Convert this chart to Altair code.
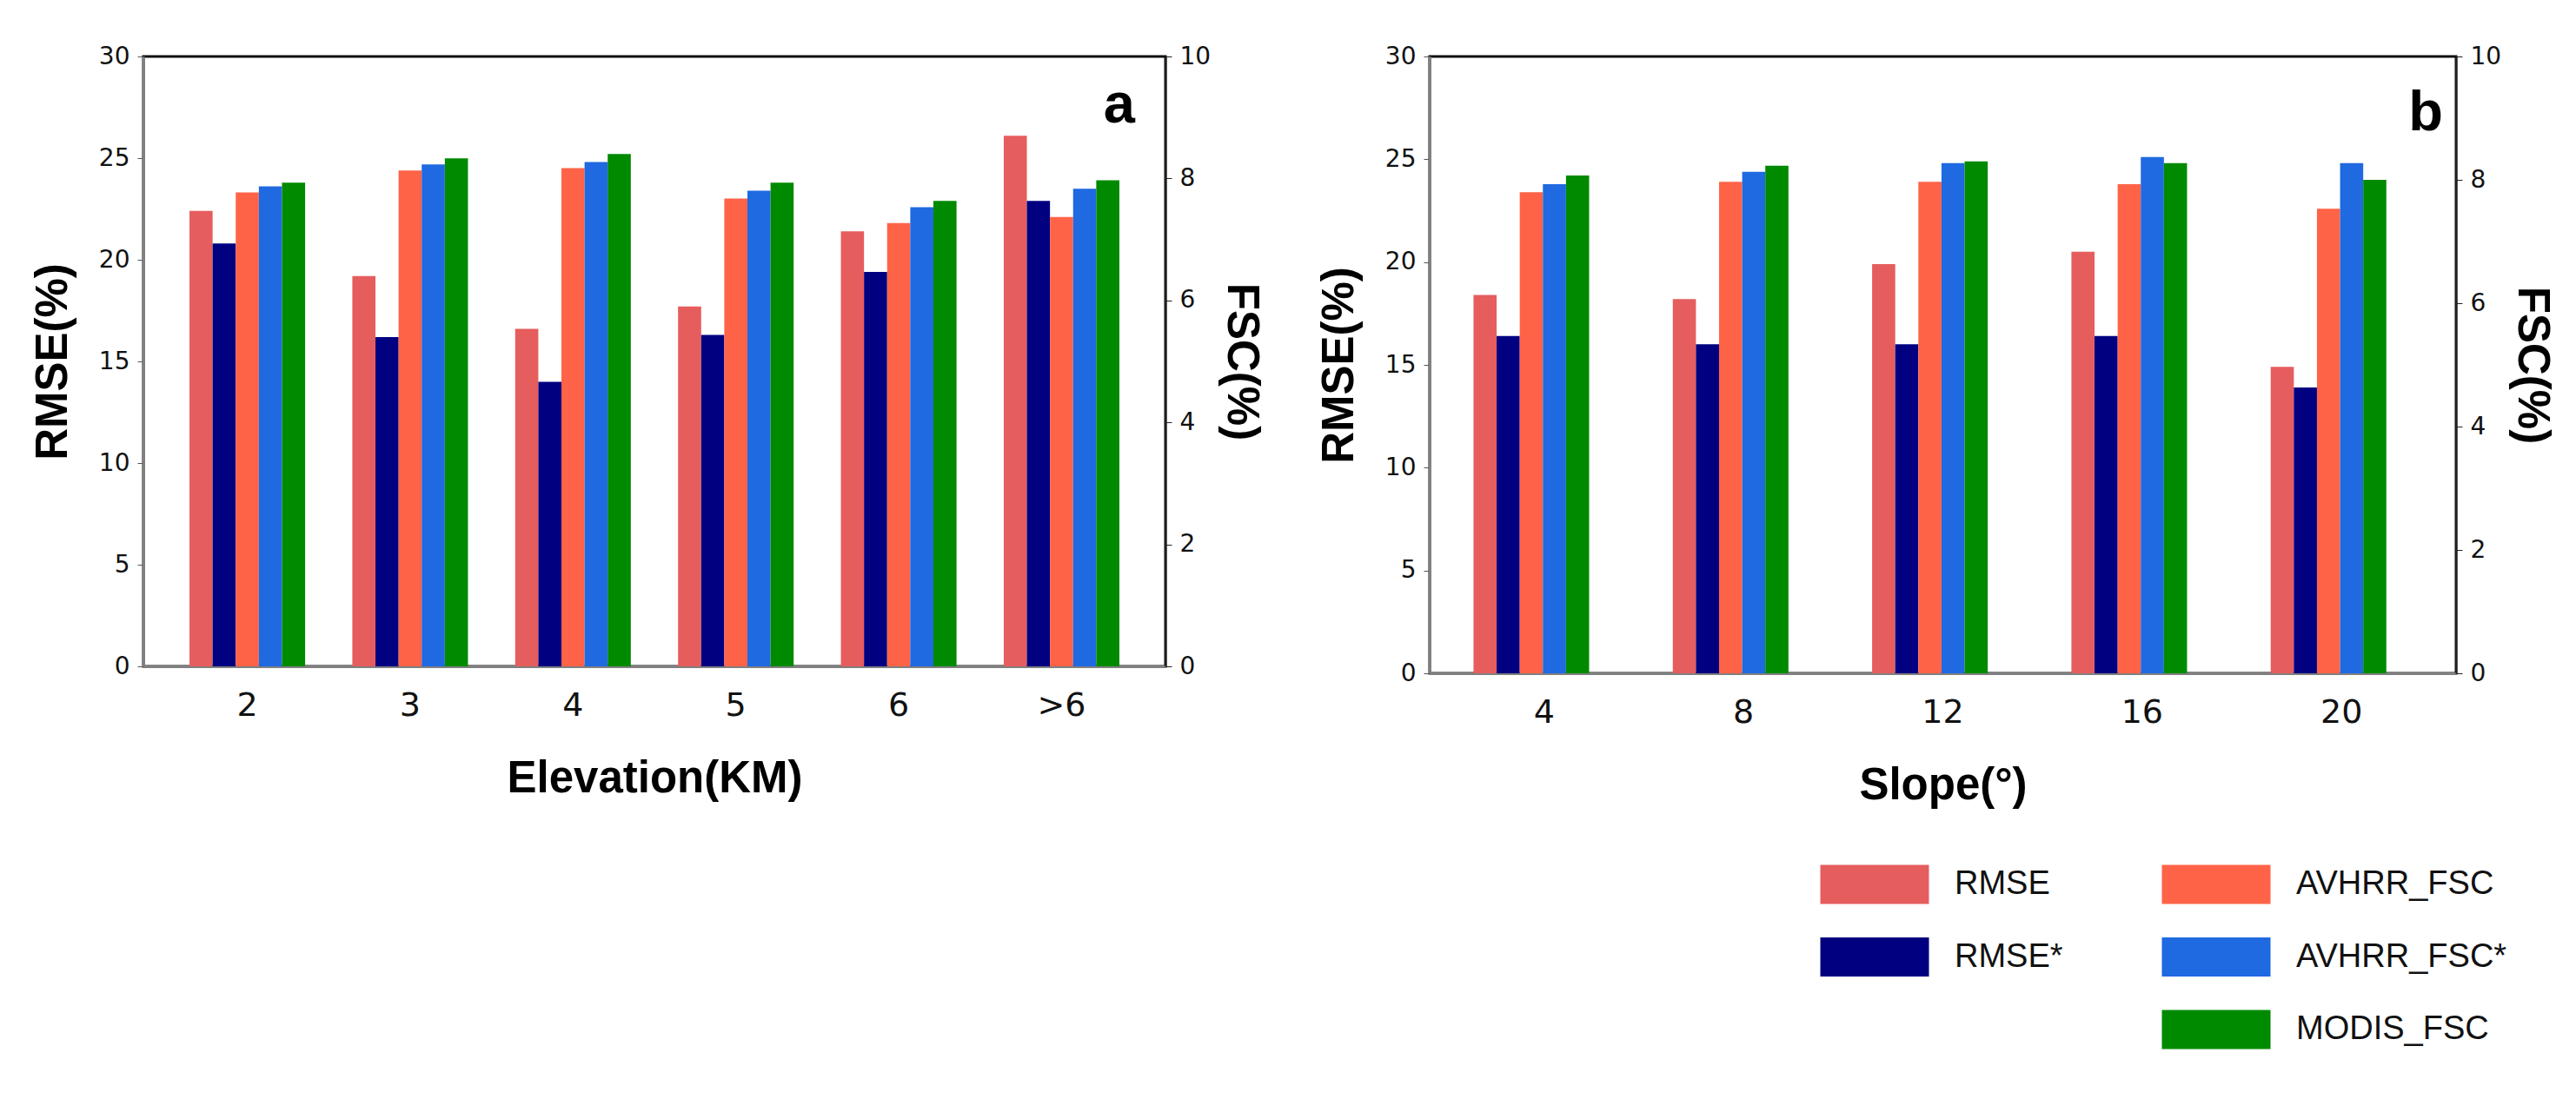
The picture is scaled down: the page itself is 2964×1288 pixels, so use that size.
import altair as alt
import pandas as pd

SERIES = ["RMSE", "RMSE*", "AVHRR_FSC", "AVHRR_FSC*", "MODIS_FSC"]
COLORS = ["#E65D5E", "#000080", "#FF6347", "#1F69E1", "#008A00"]

# panel a: elevation bins (RMSE on left axis, FSC on right axis)
ELEV = ["2", "3", "4", "5", "6", ">6"]
ELEV_RMSE = [22.4, 19.2, 16.6, 17.7, 21.4, 26.1]
ELEV_RMSE_S = [20.8, 16.2, 14.0, 16.3, 19.4, 22.9]
ELEV_AVHRR = [7.77, 8.13, 8.17, 7.67, 7.27, 7.37]
ELEV_AVHRR_S = [7.87, 8.23, 8.27, 7.80, 7.53, 7.83]
ELEV_MODIS = [7.93, 8.33, 8.40, 7.93, 7.63, 7.97]

# panel b: slope bins
SLOPE = ["4", "8", "12", "16", "20"]
SLOPE_RMSE = [18.4, 18.2, 19.9, 20.5, 14.9]
SLOPE_RMSE_S = [16.4, 16.0, 16.0, 16.4, 13.9]
SLOPE_AVHRR = [7.80, 7.97, 7.97, 7.93, 7.53]
SLOPE_AVHRR_S = [7.93, 8.13, 8.27, 8.37, 8.27]
SLOPE_MODIS = [8.07, 8.23, 8.30, 8.27, 8.00]

# legend grid: two columns, rmse items left, fsc items right
LEGEND_COL = [0, 0, 1, 1, 1]
LEGEND_ROW = [0, 1, 0, 1, 2]

TITLE_FONT = "Liberation Sans"
TICK_FONT = "DejaVu Sans"


def long_table(cats, named):
    rows = []
    for name, vals in named:
        for c, v in zip(cats, vals):
            rows.append({"cat": c, "series": name, "value": v})
    return pd.DataFrame(rows)


def panel(cats, rmse_df, fsc_df, xtitle, letter, w, h, outer, letter_dx, letter_y):
    x = alt.X(
        "cat:N",
        sort=cats,
        scale=alt.Scale(paddingInner=0.29, paddingOuter=outer),
        axis=alt.Axis(
            title=xtitle, labelAngle=0, ticks=False,
            labelFont=TICK_FONT, labelFontSize=38, labelColor="#111",
            labelPadding=26, titlePadding=40,
            titleFont=TITLE_FONT, titleFontSize=51, titleFontWeight="bold",
            titleColor="#000", domainColor="#808080", domainWidth=3,
        ),
    )
    xoff = alt.XOffset(
        "series:N", sort=SERIES,
        scale=alt.Scale(domain=SERIES, paddingInner=0, paddingOuter=0),
    )
    color = alt.Color(
        "series:N", scale=alt.Scale(domain=SERIES, range=COLORS), legend=None
    )

    left = alt.Chart(rmse_df).mark_bar().encode(
        x=x, xOffset=xoff, color=color,
        y=alt.Y(
            "value:Q",
            scale=alt.Scale(domain=[0, 30], nice=False),
            axis=alt.Axis(
                title="RMSE(%)", values=[0, 5, 10, 15, 20, 25, 30], grid=False,
                labelFont=TICK_FONT, labelFontSize=28, labelColor="#111",
                tickSize=7, tickColor="#555", labelPadding=9, titlePadding=26,
                titleFont=TITLE_FONT, titleFontSize=51, titleFontWeight="bold",
                titleColor="#000", domainColor="#808080", domainWidth=3,
            ),
        ),
    )
    right = alt.Chart(fsc_df).mark_bar().encode(
        x=x, xOffset=xoff, color=color,
        y=alt.Y(
            "value:Q",
            scale=alt.Scale(domain=[0, 10], nice=False),
            axis=alt.Axis(
                title="FSC(%)", orient="right", values=[0, 2, 4, 6, 8, 10],
                grid=False, titleAngle=90,
                labelFont=TICK_FONT, labelFontSize=28, labelColor="#111",
                tickSize=7, tickColor="#222", labelPadding=9, titlePadding=9,
                titleFont=TITLE_FONT, titleFontSize=51, titleFontWeight="bold",
                titleColor="#000", domainColor="#222", domainWidth=2,
            ),
        ),
    )
    tag = alt.Chart(pd.DataFrame({"label": [letter]})).mark_text(
        align="right", baseline="alphabetic", font=TITLE_FONT,
        fontSize=65, fontWeight="bold", color="#000",
    ).encode(text="label:N", x=alt.value(w - letter_dx), y=alt.value(letter_y))

    return (
        alt.layer(left, right, tag)
        .resolve_scale(y="independent")
        .properties(
            width=w, height=h,
            view=alt.ViewBackground(stroke="#111", strokeWidth=3),
        )
    )


rmse_a = long_table(ELEV, [("RMSE", ELEV_RMSE), ("RMSE*", ELEV_RMSE_S)])
fsc_a = long_table(ELEV, [("AVHRR_FSC", ELEV_AVHRR), ("AVHRR_FSC*", ELEV_AVHRR_S),
                          ("MODIS_FSC", ELEV_MODIS)])
rmse_b = long_table(SLOPE, [("RMSE", SLOPE_RMSE), ("RMSE*", SLOPE_RMSE_S)])
fsc_b = long_table(SLOPE, [("AVHRR_FSC", SLOPE_AVHRR), ("AVHRR_FSC*", SLOPE_AVHRR_S),
                           ("MODIS_FSC", SLOPE_MODIS)])

panel_a = panel(ELEV, rmse_a, fsc_a, "Elevation(KM)", "a", 1176, 702, 0.283, 35, 76)
panel_b = panel(SLOPE, rmse_b, fsc_b, "Slope(°)", "b", 1181, 710, 0.22, 15, 85)

# custom two-column legend
leg_df = pd.DataFrame({"series": SERIES, "col": LEGEND_COL, "row": LEGEND_ROW})
LEG_X0 = 1992
leg_x = alt.X("col:O", scale=alt.Scale(type="point", range=[LEG_X0, LEG_X0 + 393], padding=0), axis=None)
leg_y = alt.Y("row:O", scale=alt.Scale(type="point", range=[0, 167], padding=0), axis=None)
swatch = alt.Chart(leg_df).mark_point(
    shape="M-1,-0.36H1V0.36H-1Z", filled=True, opacity=1, size=15625, strokeWidth=0
).encode(
    x=leg_x, y=leg_y,
    color=alt.Color("series:N", scale=alt.Scale(domain=SERIES, range=COLORS), legend=None),
)
labels = alt.Chart(leg_df).mark_text(
    align="left", baseline="middle", dx=92, font=TITLE_FONT, fontSize=38, color="#111"
).encode(x=leg_x, y=leg_y, text="series:N")
legend = alt.layer(swatch, labels).properties(
    width=2650, height=200, view=alt.ViewBackground(stroke=None)
)

chart = (
    alt.vconcat(alt.hconcat(panel_a, panel_b, spacing=57), legend, spacing=64)
    .properties(padding={"left": 25, "top": 41, "right": 0, "bottom": 0})
    .configure(background="white")
)

chart.save("out.html", embed_options={"renderer": "svg", "actions": False})
